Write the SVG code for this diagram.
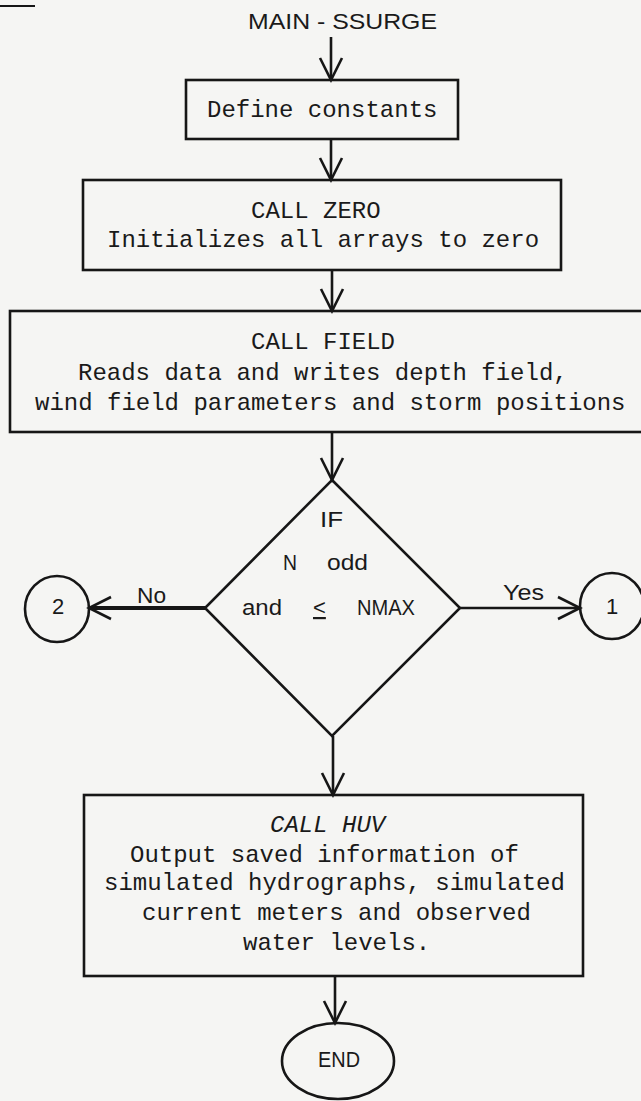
<svg xmlns="http://www.w3.org/2000/svg" width="641" height="1101" viewBox="0 0 641 1101">
<style>
.box{fill:none;stroke:#161616;stroke-width:2.6}
.conn{fill:none;stroke:#161616;stroke-width:2.6}
.thick{stroke-width:4}
.mono{font-family:"Liberation Mono","DejaVu Sans Mono",monospace;font-size:24px;fill:#1a1a1a}
.sans{font-family:"Liberation Sans",Arial,sans-serif;font-size:22px;fill:#1a1a1a}
</style>
<defs>
<marker id="vee" viewBox="-3 -14 28 28" markerWidth="28" markerHeight="28" refX="22" refY="0" orient="auto" markerUnits="userSpaceOnUse">
<path d="M0,-11 L22,0 L0,11" fill="none" stroke="#161616" stroke-width="2.6"/>
</marker>
</defs>
<rect x="0" y="0" width="641" height="1101" fill="#f5f5f3"/>
<line x1="0" y1="6" x2="35" y2="6" stroke="#161616" stroke-width="2"/>

<g id="title">
<text class="sans" x="248" y="29" font-size="21" textLength="189" lengthAdjust="spacingAndGlyphs">MAIN - SSURGE</text>
</g>

<g id="define">
<rect class="box" x="186" y="80" width="272" height="59"/>
<text class="mono" x="207" y="117">Define constants</text>
</g>

<g id="zero">
<rect class="box" x="83" y="180" width="478" height="90"/>
<text class="mono" x="251" y="218">CALL ZERO</text>
<text class="mono" x="107" y="247">Initializes all arrays to zero</text>
</g>

<g id="field">
<rect class="box" x="10" y="311" width="645" height="121"/>
<text class="mono" x="251" y="349">CALL FIELD</text>
<text class="mono" x="78" y="380">Reads data and writes depth field,</text>
<text class="mono" x="35" y="410">wind field parameters and storm positions</text>
</g>

<g id="decision">
<polygon class="box" points="332,480 460,608 332,736 205,608"/>
<text class="sans" x="320" y="527" textLength="23" lengthAdjust="spacingAndGlyphs">IF</text>
<text class="sans" x="283" y="570" textLength="14" lengthAdjust="spacingAndGlyphs">N</text>
<text class="sans" x="327" y="570" textLength="41" lengthAdjust="spacingAndGlyphs">odd</text>
<text class="sans" x="242" y="615" textLength="40" lengthAdjust="spacingAndGlyphs">and</text>
<text class="sans" x="313" y="615" text-decoration="underline">&lt;</text>
<text class="sans" x="357" y="615" textLength="58" lengthAdjust="spacingAndGlyphs">NMAX</text>
</g>

<g id="conn2">
<ellipse class="box" cx="57" cy="609" rx="32" ry="33"/>
<text class="sans" x="58" y="614" font-size="20" text-anchor="middle">2</text>
</g>

<g id="conn1">
<ellipse class="box" cx="612" cy="606" rx="32" ry="33"/>
<text class="sans" x="612" y="614" font-size="20" text-anchor="middle">1</text>
</g>

<g id="huv">
<rect class="box" x="84" y="795" width="499" height="181"/>
<text class="mono" x="270" y="832" font-style="italic">CALL HUV</text>
<text class="mono" x="130" y="862">Output saved information of</text>
<text class="mono" x="104" y="890">simulated hydrographs, simulated</text>
<text class="mono" x="142" y="920">current meters and observed</text>
<text class="mono" x="243" y="950">water levels.</text>
</g>

<g id="end">
<ellipse class="box" cx="338" cy="1061" rx="56" ry="38"/>
<text class="sans" x="339" y="1067" font-size="23" text-anchor="middle" textLength="42" lengthAdjust="spacingAndGlyphs">END</text>
</g>

<g id="connectors">
<path class="conn" d="M331,37 V80" marker-end="url(#vee)"/>
<path class="conn" d="M331,139 V180" marker-end="url(#vee)"/>
<path class="conn" d="M332,270 V311" marker-end="url(#vee)"/>
<path class="conn" d="M332,432 V480" marker-end="url(#vee)"/>
<path class="conn thick" d="M205,608 H89" marker-end="url(#vee)"/>
<path class="conn" d="M460,608 H580" marker-end="url(#vee)"/>
<path class="conn" d="M333,736 V795" marker-end="url(#vee)"/>
<path class="conn" d="M335,976 V1023" marker-end="url(#vee)"/>
<text class="sans" x="137" y="603" textLength="29" lengthAdjust="spacingAndGlyphs">No</text>
<text class="sans" x="503" y="600" textLength="41" lengthAdjust="spacingAndGlyphs">Yes</text>
</g>
</svg>
